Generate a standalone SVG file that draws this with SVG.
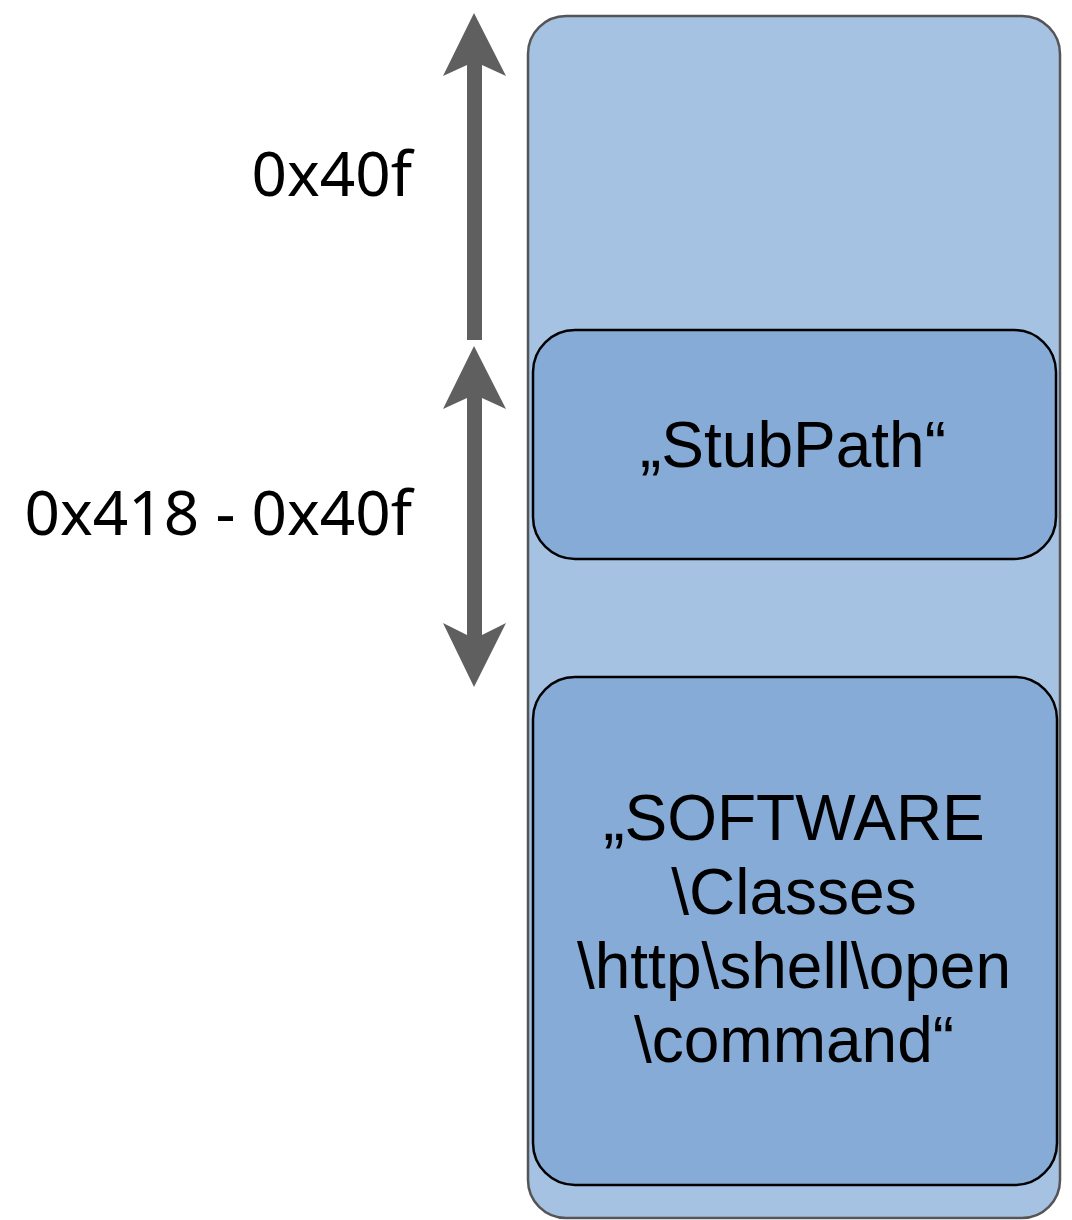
<svg xmlns="http://www.w3.org/2000/svg" width="1072" height="1220" viewBox="0 0 1072 1220">
<style>
.lbl{font-family:"Noto Sans","Open Sans",sans-serif;font-size:62px;fill:#000;text-anchor:end}
.txt{font-family:"Liberation Sans",Arial,sans-serif;fill:#000;text-anchor:middle}
.inner{fill:#86abd7;stroke:#000;stroke-width:2.5}
.arrow{fill:#5f5f5f;stroke:none}
</style>
<rect width="1072" height="1220" fill="#fff"/>
<g id="container">
<rect x="528" y="16" width="532" height="1202" rx="38" ry="38" fill="#a5c2e2" stroke="#555" stroke-width="2.5"/>
</g>
<g id="stubpath">
<rect class="inner" x="533" y="330" width="523" height="229" rx="42" ry="42"/>
<text class="txt" x="793" y="467" font-size="64">„StubPath“</text>
</g>
<g id="software">
<rect class="inner" x="533" y="677" width="524" height="508" rx="42" ry="42"/>
<text class="txt" font-size="64"><tspan x="794" y="840">„SOFTWARE</tspan><tspan x="794" y="914">\Classes</tspan><tspan x="794" y="988">\http\shell\open</tspan><tspan x="794" y="1062">\command“</tspan></text>
</g>
<g id="connectors">
<polygon class="arrow" points="474,13 506,76 482,65 482,340 467,340 467,65 443,76"/>
<polygon class="arrow" points="474,346 506,409 482,398 482,635 506,623 474,687 443,623 467,635 467,398 443,409"/>
</g>
<g id="labels">
<text class="lbl" x="412" y="196">0x40f</text>
<text class="lbl" x="412" y="535">0x418 - 0x40f</text>
</g>
</svg>
